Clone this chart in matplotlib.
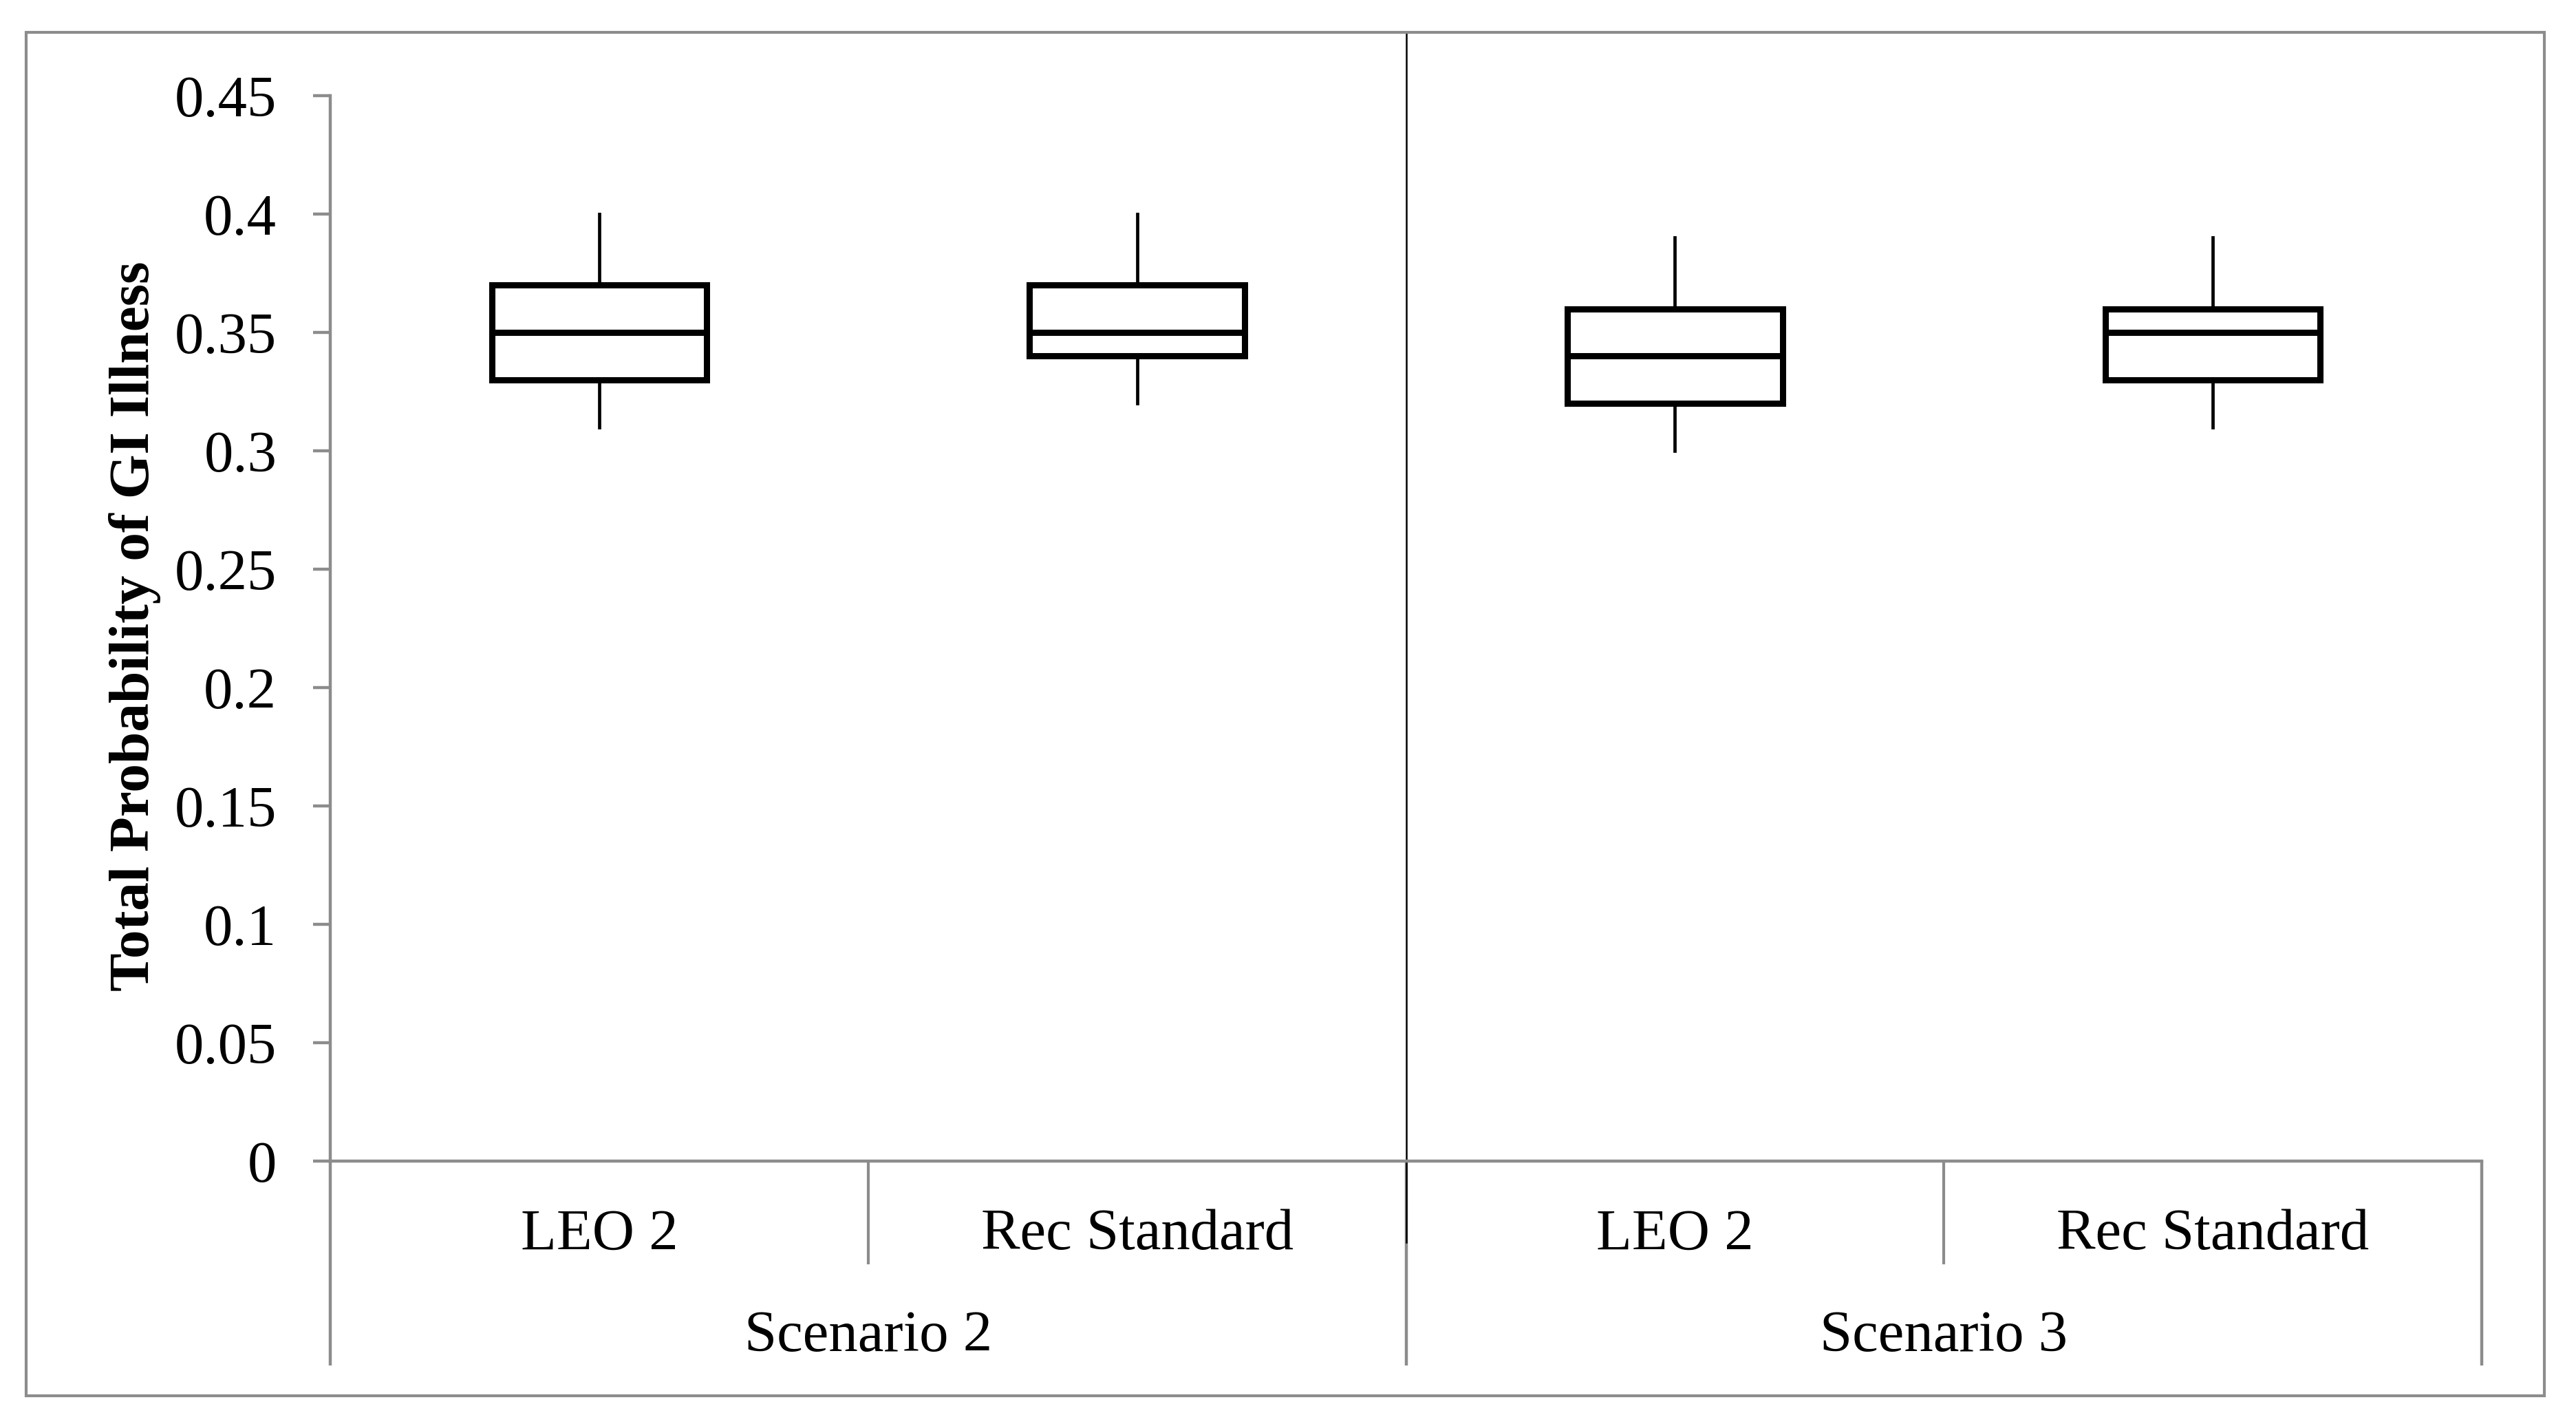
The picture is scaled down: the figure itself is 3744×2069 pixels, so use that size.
import matplotlib
matplotlib.use("Agg")
import matplotlib.pyplot as plt
from matplotlib.transforms import blended_transform_factory
from matplotlib.patches import Rectangle

# ---- data ----
groups = ["Scenario 2", "Scenario 3"]
categories = ["LEO 2", "Rec Standard", "LEO 2", "Rec Standard"]
whisker_low = [0.31, 0.32, 0.30, 0.31]
q1 = [0.33, 0.34, 0.32, 0.33]
median = [0.35, 0.35, 0.34, 0.35]
q3 = [0.37, 0.37, 0.36, 0.36]
whisker_high = [0.40, 0.40, 0.39, 0.39]
yticks = [0, 0.05, 0.1, 0.15, 0.2, 0.25, 0.3, 0.35, 0.4, 0.45]
ytick_labels = ["0", "0.05", "0.1", "0.15", "0.2", "0.25", "0.3", "0.35", "0.4", "0.45"]
ylabel = "Total Probability of GI Illness"

W, H = 3744, 2069
DPI = 100
GRAY = "#8c8c8c"
plt.rcParams["font.family"] = ["Liberation Serif", "DejaVu Serif"]

fig = plt.figure(figsize=(W / DPI, H / DPI), dpi=DPI)
fy = lambda py: 1 - py / H
fx = lambda px: px / W

ax = fig.add_axes([fx(480), fy(1687), fx(3607) - fx(480), fy(139) - fy(1687)])
ax.set_ylim(0, 0.45)
ax.set_xlim(0.5, 4.5)

stats = []
for i in range(len(categories)):
    stats.append(dict(whislo=whisker_low[i], q1=q1[i], med=median[i],
                      q3=q3[i], whishi=whisker_high[i], fliers=[]))
positions = list(range(1, len(categories) + 1))
ax.bxp(stats, positions=positions, widths=0.40, showcaps=False,
       showfliers=False, patch_artist=True,
       boxprops=dict(facecolor="white", edgecolor="black", linewidth=6.5),
       medianprops=dict(color="black", linewidth=6.5, solid_capstyle="butt"),
       whiskerprops=dict(color="black", linewidth=3.4))

# spines / ticks
for s in ["top", "right"]:
    ax.spines[s].set_visible(False)
for s in ["left", "bottom"]:
    ax.spines[s].set_color(GRAY)
    ax.spines[s].set_linewidth(3.2)
ax.set_yticks(yticks)
ax.set_yticklabels(ytick_labels)
ax.tick_params(axis="y", direction="out", length=18, width=3.2, color=GRAY,
               pad=38, labelsize=61)
ax.set_xticks([])

# category axis lines below plot
tr = blended_transform_factory(ax.transData, fig.transFigure)
n = len(categories)
per_group = n // len(groups)
for b in range(n + 1):
    xb = 0.5 + b
    if b % per_group == 0:
        y_end = fy(1984)
    else:
        y_end = fy(1837)
    ax.plot([xb, xb], [fy(1687), y_end], transform=tr, color=GRAY,
            linewidth=3.0 if b % per_group else 3.2, clip_on=False,
            solid_capstyle="butt")

for i, c in enumerate(categories):
    ax.text(positions[i], fy(1795), c, transform=tr, ha="center", va="center",
            fontsize=61)
for g, name in enumerate(groups):
    xc = 0.5 + g * per_group + per_group / 2
    ax.text(xc, fy(1943), name, transform=tr, ha="center", va="center",
            fontsize=61)

# thin black vertical divider line
ax.plot([2.5, 2.5], [fy(47), fy(1805)], transform=tr, color="black",
        linewidth=1.8, clip_on=False)

# y label
fig.text(fx(196), fy(910), ylabel, rotation=90, ha="center", va="center",
         fontsize=60, fontweight="bold")

# outer border
fig.patches.append(Rectangle((fx(38), fy(2028)), fx(3698) - fx(38),
                             fy(47) - fy(2028), transform=fig.transFigure,
                             fill=False, edgecolor=GRAY, linewidth=3.0))

fig.savefig("out.png", dpi=DPI)
